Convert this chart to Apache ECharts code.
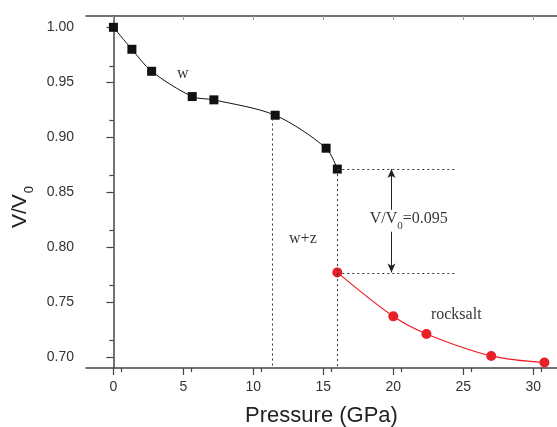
<!DOCTYPE html>
<html>
<head>
<meta charset="utf-8">
<script src="https://cdn.jsdelivr.net/npm/echarts@6/dist/echarts.min.js"></script>
<style>html,body{margin:0;padding:0;background:#fff}#c{width:557px;height:427px}</style>
</head>
<body>
<div id="c"></div>
<script>
// Data
const wPressure = [0, 1.32, 2.73, 5.63, 7.18, 11.56, 15.2, 16.0];
const wVolume   = [1.000, 0.980, 0.960, 0.937, 0.934, 0.920, 0.890, 0.871];
const rsPressure = [16.0, 20.0, 22.37, 27.0, 30.8];
const rsVolume   = [0.777, 0.737, 0.721, 0.701, 0.695];
const xTicks = [0, 5, 10, 15, 20, 25, 30];
const yTicks = [0.70, 0.75, 0.80, 0.85, 0.90, 0.95, 1.00];

const XMIN = -1.96, XMAX = 31.7, YMIN = 0.69, YMAX = 1.0103;

const zip = (a, b) => a.map((v, i) => [v, b[i]]);

const serif = '"Liberation Serif","Times New Roman",serif';
const sans = '"Liberation Sans",Arial,Helvetica,sans-serif';

const annotations = [
  { pos: [4.96, 0.958], text: 'w' },
  { pos: [13.54, 0.808], text: 'w+z' },
  { pos: [24.5, 0.738], text: 'rocksalt' },
  { pos: [21.1, 0.826], text: '{a|V/V}{s|0}{a|=0.095}' }
];

const dotStyle = { type: [2, 3], color: '#333', width: 1 };

const chart = echarts.init(document.getElementById('c'), null, { renderer: 'canvas' });
chart.setOption({
  animation: false,
  backgroundColor: '#fff',
  grid: { left: 86, top: 16, right: 0, bottom: 59, containLabel: false, outerBoundsMode: 'none' },
  xAxis: [{
    type: 'value', min: XMIN, max: XMAX, interval: 5,
    position: 'bottom',
    name: 'Pressure (GPa)', nameLocation: 'middle', nameGap: 37,
    nameTextStyle: { fontFamily: sans, fontSize: 22, color: '#222' },
    axisLine: { show: true, lineStyle: { color: '#444', width: 1.5 } },
    axisTick: { show: true, inside: false, length: 7, lineStyle: { color: '#444', width: 1.2 },
      customValues: xTicks },
    minorTick: { show: true, splitNumber: 2, length: 4, lineStyle: { color: '#444', width: 1.2 } },
    axisLabel: { fontFamily: sans, fontSize: 14, color: '#333', margin: 12,
      customValues: xTicks, formatter: v => String(v) },
    splitLine: { show: false }
  }, {
    type: 'value', min: XMIN, max: XMAX, interval: 5,
    position: 'top',
    axisLine: { show: true, onZero: false, lineStyle: { color: '#444', width: 1.5 } },
    axisTick: { show: true, inside: true, length: 4, lineStyle: { color: '#999', width: 1 }, customValues: xTicks },
    axisLabel: { show: false },
    splitLine: { show: false }
  }],
  yAxis: [{
    type: 'value', min: YMIN, max: YMAX, interval: 0.05,
    name: '{a|V/V}{s|0}', nameLocation: 'middle', nameGap: 52, nameRotate: 90,
    nameTextStyle: {
      padding: [0, 30, 0, 0],
      rich: {
        a: { fontFamily: sans, fontSize: 21, color: '#222', lineHeight: 24 },
        s: { fontFamily: sans, fontSize: 13, color: '#222', lineHeight: 13, verticalAlign: 'bottom', padding: [0, 0, -4, 1] }
      }
    },
    axisLine: { show: true, lineStyle: { color: '#444', width: 1.5 } },
    axisTick: { show: true, length: 7, lineStyle: { color: '#444', width: 1.2 }, customValues: yTicks },
    minorTick: { show: true, splitNumber: 2, length: 4, lineStyle: { color: '#444', width: 1.2 } },
    axisLabel: { fontFamily: sans, fontSize: 14, color: '#333', margin: 12,
      customValues: yTicks, formatter: v => v.toFixed(2) },
    splitLine: { show: false }
  }],
  series: [{
    name: 'w', type: 'line', data: zip(wPressure, wVolume),
    smooth: 0.3, symbol: 'rect', symbolSize: 9,
    itemStyle: { color: '#111' }, lineStyle: { color: '#111', width: 1 },
    markLine: {
      silent: true, symbol: 'none', label: { show: false },
      lineStyle: dotStyle,
      data: [
        [{ coord: [11.35, 0.917] }, { coord: [11.35, YMIN] }],
        [{ coord: [16.0, 0.871] }, { coord: [16.0, YMIN] }],
        [{ coord: [16.0, 0.871] }, { coord: [24.4, 0.871] }],
        [{ coord: [16.0, 0.776] }, { coord: [24.4, 0.776] }]
      ]
    }
  }, {
    name: 'rocksalt', type: 'line', data: zip(rsPressure, rsVolume),
    smooth: 0.35, symbol: 'circle', symbolSize: 10,
    itemStyle: { color: '#e8202a' }, lineStyle: { color: '#ee1c25', width: 1.2 },
    markLine: {
      silent: true, label: { show: false },
      symbol: ['none', 'arrow'], symbolSize: [6, 9],
      lineStyle: { type: 'solid', color: '#222', width: 1 },
      data: [
        [{ coord: [19.87, 0.834] }, { coord: [19.87, 0.871] }],
        [{ coord: [19.87, 0.814] }, { coord: [19.87, 0.777] }]
      ]
    }
  }, {
    name: 'labels', type: 'scatter', symbol: 'circle', symbolSize: 0, silent: true,
    itemStyle: { color: '#000' },
    data: annotations.map(a => ({ value: a.pos, text: a.text })),
    label: {
      show: true, position: 'inside',
      formatter: p => p.data.text,
      fontFamily: serif, fontSize: 16, color: '#000',
      rich: {
        a: { fontFamily: serif, fontSize: 16, color: '#000', lineHeight: 18 },
        s: { fontFamily: serif, fontSize: 11, color: '#000', lineHeight: 11, verticalAlign: 'bottom', padding: [0, 0, -4, 0] }
      }
    },
    labelLayout: { hideOverlap: false }
  }]
});
</script>
</body>
</html>
